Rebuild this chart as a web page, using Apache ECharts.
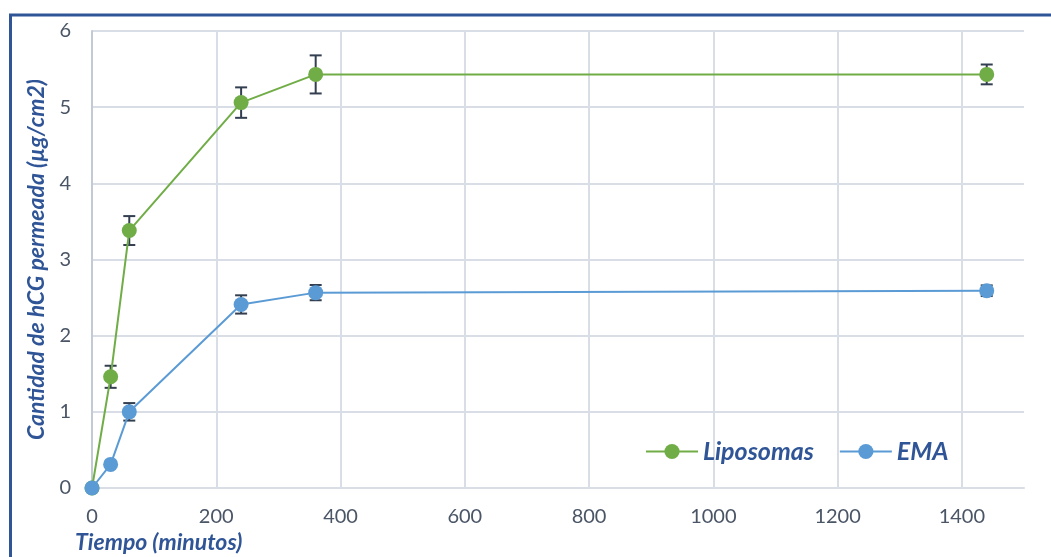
<!DOCTYPE html>
<html>
<head>
<meta charset="utf-8">
<script src="https://cdn.jsdelivr.net/npm/echarts@6/dist/echarts.min.js"></script>
<style>
  html, body { margin: 0; padding: 0; background: #ffffff; }
  #chart { width: 1051px; height: 557px; }
</style>
</head>
<body>
<div id="chart"></div>
<script>
// Permeation time points (minutes)
const tiempo = [0, 30, 60, 240, 360, 1440];

// Cumulative hCG permeated (µg/cm2) and standard deviations
const liposomas = [0, 1.46, 3.38, 5.06, 5.43, 5.43];
const liposomasDE = [0, 0.145, 0.19, 0.2, 0.25, 0.13];
const ema = [0, 0.31, 1.0, 2.41, 2.565, 2.59];
const emaDE = [0, 0.03, 0.115, 0.12, 0.1, 0.07];

const yTicks = [0, 1, 2, 3, 4, 5, 6];

const FONT = 'Lato, "Open Sans", sans-serif';
const TITLE_BLUE = '#2F5597';
const GREEN = '#70AD47';
const BLUE = '#5B9BD5';
const ERR = '#333F50';

function pairs(xs, ys) { return xs.map((x, i) => [x, ys[i]]); }
function errPairs(xs, ys, es) { return xs.map((x, i) => [x, ys[i], es[i]]); }

// Error bars: vertical whisker with caps, drawn in data coordinates
function errorBarItem(params, api) {
  const x = api.value(0), y = api.value(1), e = api.value(2);
  if (!e) return null;
  const hi = api.coord([x, y + e]);
  const lo = api.coord([x, y - e]);
  const cap = 6;
  const style = { stroke: ERR, lineWidth: 2 };
  return {
    type: 'group',
    children: [
      { type: 'line', shape: { x1: hi[0], y1: hi[1], x2: lo[0], y2: lo[1] }, style },
      { type: 'line', shape: { x1: hi[0] - cap, y1: hi[1], x2: hi[0] + cap, y2: hi[1] }, style },
      { type: 'line', shape: { x1: lo[0] - cap, y1: lo[1], x2: lo[0] + cap, y2: lo[1] }, style }
    ]
  };
}

const chart = echarts.init(document.getElementById('chart'), null, { renderer: 'canvas' });

chart.setOption({
  backgroundColor: '#ffffff',
  animation: false,
  graphic: [
    {
      type: 'rect',
      z: 100,
      shape: { x: 10.5, y: 15, width: 1200, height: 700 },
      style: { fill: 'none', stroke: TITLE_BLUE, lineWidth: 3 }
    },
    {
      type: 'text',
      left: 75,
      top: 531,
      style: {
        text: 'Tiempo (minutos)',
        font: 'italic bold 23px ' + FONT,
        fill: TITLE_BLUE
      }
    }
  ],
  grid: { left: 92, top: 31, right: 27, bottom: 69, containLabel: false },
  legend: {
    left: 640,
    top: 434,
    itemWidth: 52,
    itemHeight: 19,
    itemGap: 25,
    textStyle: {
      color: TITLE_BLUE,
      fontFamily: FONT,
      fontSize: 25,
      fontWeight: 'bold',
      fontStyle: 'italic'
    },
    data: ['Liposomas', 'EMA']
  },
  xAxis: {
    type: 'value',
    min: 0,
    max: 1500,
    interval: 200,
    axisLine: { show: true, lineStyle: { color: '#D9DEE6', width: 2 } },
    axisTick: { show: false },
    axisLabel: {
      showMaxLabel: false,
      margin: 19,
      color: '#4A5566',
      fontFamily: FONT,
      fontSize: 20,
      formatter: v => String(v)
    },
    splitLine: { show: true, showMaxLine: false, lineStyle: { color: '#D9DEE6', width: 2 } }
  },
  yAxis: {
    type: 'value',
    min: yTicks[0],
    max: yTicks[yTicks.length - 1],
    interval: 1,
    name: 'Cantidad de hCG permeada (µg/cm2)',
    nameLocation: 'middle',
    nameGap: 42,
    nameTextStyle: {
      color: TITLE_BLUE,
      fontFamily: FONT,
      fontSize: 23,
      fontWeight: 'bold',
      fontStyle: 'italic'
    },
    axisLine: { show: true, lineStyle: { color: '#C3CAD6', width: 2 } },
    axisTick: { show: false },
    axisLabel: {
      margin: 21,
      color: '#4A5566',
      fontFamily: FONT,
      fontSize: 20
    },
    splitLine: { show: true, lineStyle: { color: '#D9DEE6', width: 2 } }
  },
  series: [
    {
      type: 'custom',
      name: 'errLiposomas',
      renderItem: errorBarItem,
      data: errPairs(tiempo, liposomas, liposomasDE),
      z: 2,
      silent: true
    },
    {
      type: 'custom',
      name: 'errEMA',
      renderItem: errorBarItem,
      data: errPairs(tiempo, ema, emaDE),
      z: 2,
      silent: true
    },
    {
      name: 'Liposomas',
      type: 'line',
      data: pairs(tiempo, liposomas),
      symbol: 'circle',
      symbolSize: 15,
      z: 3,
      lineStyle: { color: GREEN, width: 2 },
      itemStyle: { color: GREEN }
    },
    {
      name: 'EMA',
      type: 'line',
      data: pairs(tiempo, ema),
      symbol: 'circle',
      symbolSize: 15,
      z: 4,
      lineStyle: { color: BLUE, width: 2 },
      itemStyle: { color: BLUE }
    }
  ]
});
</script>
</body>
</html>
